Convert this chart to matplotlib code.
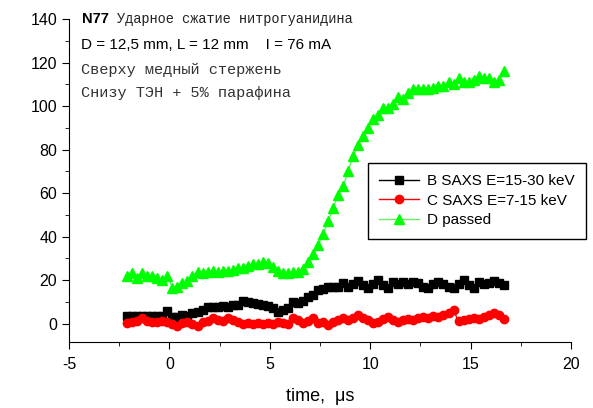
import numpy as np
import matplotlib
matplotlib.use("Agg")
import matplotlib.pyplot as plt
from matplotlib.ticker import MultipleLocator

plt.rcParams["axes.unicode_minus"] = False

# time grid of the scan, microseconds #
time_us = np.arange(76) * 0.25 - 2.1

# B SAXS E=15-30 keV #
b_saxs = [3.5, 3.6, 3.5, 3.4, 3.6, 3.5, 3.6, 3.5, 5.8, 3.0,
          3.0, 4.0, 3.5, 5.0, 5.5, 6.0, 7.6, 7.5, 7.6, 8.0,
          7.8, 8.5, 8.6, 10.4, 10.0, 9.5, 9.0, 8.6, 8.0, 7.2,
          5.4, 6.0, 7.0, 10.0, 9.5, 10.5, 12.0, 13.0, 15.5, 16.0,
          17.0, 17.0, 17.0, 18.7, 17.0, 18.0, 19.6, 17.8, 16.5, 18.0,
          20.0, 17.5, 16.5, 19.0, 18.0, 19.0, 18.0, 19.0, 18.5, 17.0,
          16.5, 18.0, 19.0, 18.0, 17.0, 16.5, 18.0, 20.0, 17.5, 16.5,
          19.0, 18.0, 18.5, 19.6, 18.5, 17.8]

# C SAXS E=7-15 keV #
c_saxs = [0.3, 0.5, 1.0, 2.6, 1.0, 0.5, 0.8, 1.2, 0.8, 0.0,
          -1.2, 0.4, 0.5, 0.0, -1.0, 0.5, 1.0, 2.5, 1.5, 1.0,
          2.6, 1.5, 0.5, 0.0, 0.3, 0.0, 0.2, 0.0, 0.3, 0.0,
          0.5, 0.3, 0.0, 2.6, 1.5, 0.2, 1.0, 2.6, 0.3, 0.8,
          -0.6, 0.5, 1.5, 2.6, 1.5, 2.5, 4.0, 2.5, 1.5, 0.3,
          0.5, 2.0, 3.0, 1.5, 0.8, 1.5, 2.0, 1.5, 2.5, 3.0,
          2.5, 3.5, 3.0, 4.0, 5.0, 6.0, 1.0, 1.5, 2.0, 2.5,
          2.0, 3.0, 4.0, 5.0, 4.0, 2.0]

# D passed #
d_passed = [22, 23, 21, 23, 22, 22, 21, 20, 22, 16.5,
            17, 18.5, 19.5, 22, 23.5, 23, 23.5, 24, 23.5, 24,
            24, 24.5, 25.5, 25.5, 26.5, 27.5, 27.5, 28.5, 28, 26,
            24, 23, 23, 23.5, 23.5, 25, 28.5, 32, 36, 41,
            47, 53, 59, 63, 70, 77, 82, 86, 90, 94,
            96, 99, 99, 101, 104, 103, 106, 108, 108, 108,
            108, 108.5, 109, 109, 111, 110, 113, 111, 111, 112,
            114, 113, 113, 111, 112, 116]

fig = plt.figure(figsize=(5.93, 4.08), dpi=100)
ax = fig.add_axes([69 / 593, 1 - 342 / 408, (571 - 69) / 593, (342 - 19) / 408])

ax.plot(time_us, b_saxs, "-s", color="black", lw=1, ms=5.5, mec="black",
        label="B SAXS E=15-30 keV")
ax.plot(time_us, c_saxs, "-o", color="red", lw=1, ms=6, mec="red",
        label="C SAXS E=7-15 keV")
ax.plot(time_us, d_passed, "-^", color="#66ee66", lw=1, ms=7,
        mfc="#00ff00", mec="#00ff00", label="D passed")

ax.set_xlim(-5, 20)
ax.set_ylim(-8.5, 140)
ax.xaxis.set_major_locator(MultipleLocator(5))
ax.xaxis.set_minor_locator(MultipleLocator(2.5))
ax.yaxis.set_major_locator(MultipleLocator(20))
ax.yaxis.set_minor_locator(MultipleLocator(10))
for s in ("top", "right"):
    ax.spines[s].set_visible(False)
ax.tick_params(which="both", direction="out", labelsize=11.5)
ax.tick_params(which="major", length=5)
ax.tick_params(which="minor", length=3)
ax.tick_params(axis="x", pad=6)
for lab in ax.get_xticklabels() + ax.get_yticklabels():
    lab.set_family("Liberation Sans")
ax.set_xlabel("time,  \u03bcs", fontsize=13, family="Liberation Sans", labelpad=11)

leg = ax.legend(loc="upper left", bbox_to_anchor=(368 / 593, 1 - 163 / 408),
                bbox_transform=fig.transFigure, borderaxespad=0,
                fancybox=False, edgecolor="black", framealpha=1,
                prop={"family": "Liberation Sans", "size": 11},
                handlelength=2.6, handletextpad=0.5, labelspacing=0.35,
                borderpad=0.75)
leg.get_frame().set_linewidth(1)

# annotation lines in the top left corner #
sans = "Liberation Sans"
mono = "Liberation Mono"
fig.text(82 / 593, 1 - 19 / 408, "N77", family=sans, fontsize=10.5,
         weight="bold", va="center")
fig.text(117 / 593, 1 - 19 / 408, "Ударное сжатие нитрогуанидина", family=mono,
         fontsize=9.8, va="center", color="#222222")
fig.text(81 / 593, 1 - 45 / 408, "D = 12,5 mm, L = 12 mm    I = 76 mA", family=sans,
         fontsize=11, va="center")
fig.text(81 / 593, 1 - 70 / 408, "Сверху медный стержень", family=mono,
         fontsize=11, va="center", color="#333333")
fig.text(81 / 593, 1 - 93 / 408, "Снизу ТЭН + 5% парафина", family=mono,
         fontsize=11, va="center", color="#333333")

fig.savefig("out.png", dpi=100)
